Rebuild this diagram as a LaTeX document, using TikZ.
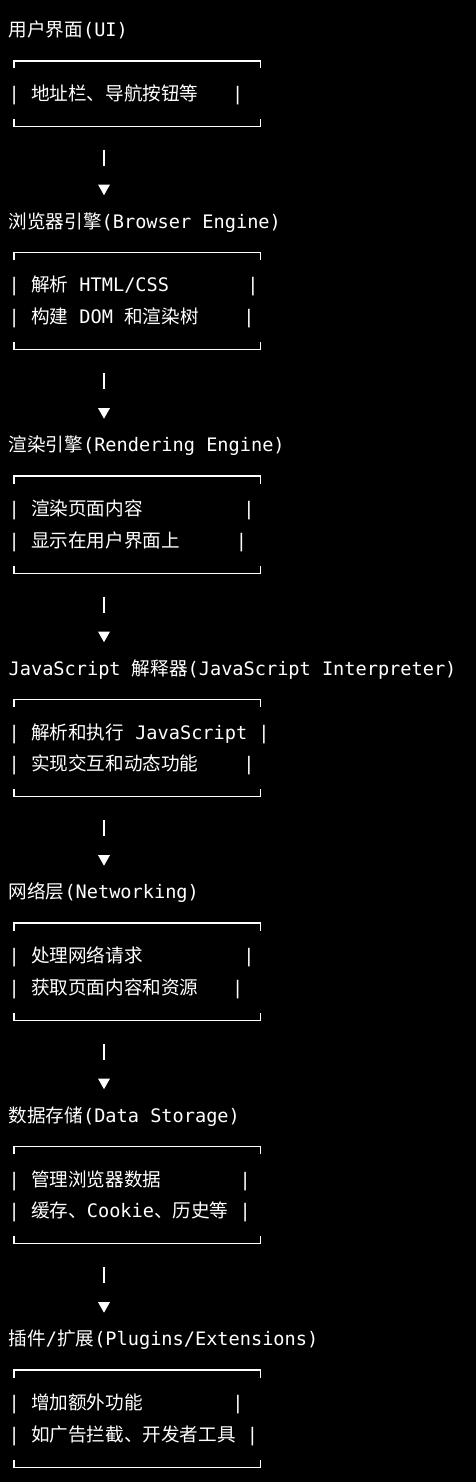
\documentclass[tikz,border=0pt]{standalone}
\usepackage{fontspec}
\setmainfont{DejaVu Sans Mono}
\newfontfamily\cjk{Noto Sans CJK SC}
\newcommand\zh[1]{{\cjk#1}}
\usetikzlibrary{arrows.meta}
\frenchspacing

\begin{document}
\begin{tikzpicture}[
    x=1pt, y=-1pt,
    title/.style={anchor=base west, inner sep=0pt, text=white, font=\fontsize{18.6}{22}\selectfont},
    row/.style={anchor=base west, inner sep=0pt, text=white, font=\fontsize{18.6}{22}\selectfont},
    box/.style={anchor=north west, inner sep=0pt, minimum width=246.3pt},
    frame/.style={draw=white, line width=1.3pt},
    flow/.style={draw=white, line width=1.3pt, dash pattern=on 16pt off 60pt, -{Triangle[length=10.5pt, width=11.5pt]}}
]

% Background
\fill[black, use as bounding box] (0,0) rectangle (476,1482);

% Titles
\node[title] (UI) at (8.5, 36.5) {\zh{用户界面}(UI)};
\node[title] (Browser) at (8.5, 228.1) {\zh{浏览器引擎}(Browser Engine)};
\node[title] (Render) at (8.5, 451.6) {\zh{渲染引擎}(Rendering Engine)};
\node[title] (JS) at (8.5, 675.1) {JavaScript \zh{解释器}(JavaScript Interpreter)};
\node[title] (Net) at (8.5, 898.6) {\zh{网络层}(Networking)};
\node[title] (Data) at (8.5, 1122.1) {\zh{数据存储}(Data Storage)};
\node[title] (Plug) at (8.5, 1345.6) {\zh{插件}/\zh{扩展}(Plugins/Extensions)};

% Boxes
\node[box, minimum height=64.9pt] (UI_box) at (14.1, 60.9) {};
\node[box, minimum height=96.8pt] (Browser_box) at (14.1, 252.5) {};
\node[box, minimum height=96.8pt] (Render_box) at (14.1, 476.0) {};
\node[box, minimum height=96.8pt] (JS_box) at (14.1, 699.5) {};
\node[box, minimum height=96.8pt] (Net_box) at (14.1, 923.0) {};
\node[box, minimum height=96.8pt] (Data_box) at (14.1, 1146.5) {};
\node[box, minimum height=96.8pt] (Plug_box) at (14.1, 1370.1) {};

\draw[frame] ([yshift=-7.5pt]UI_box.north west) |- (UI_box.north east) -- ++(0,-7.5pt)
             ([yshift=7.5pt]UI_box.south west) |- (UI_box.south east) -- ++(0,7.5pt);
\draw[frame] ([yshift=-7.5pt]Browser_box.north west) |- (Browser_box.north east) -- ++(0,-7.5pt)
             ([yshift=7.5pt]Browser_box.south west) |- (Browser_box.south east) -- ++(0,7.5pt);
\draw[frame] ([yshift=-7.5pt]Render_box.north west) |- (Render_box.north east) -- ++(0,-7.5pt)
             ([yshift=7.5pt]Render_box.south west) |- (Render_box.south east) -- ++(0,7.5pt);
\draw[frame] ([yshift=-7.5pt]JS_box.north west) |- (JS_box.north east) -- ++(0,-7.5pt)
             ([yshift=7.5pt]JS_box.south west) |- (JS_box.south east) -- ++(0,7.5pt);
\draw[frame] ([yshift=-7.5pt]Net_box.north west) |- (Net_box.north east) -- ++(0,-7.5pt)
             ([yshift=7.5pt]Net_box.south west) |- (Net_box.south east) -- ++(0,7.5pt);
\draw[frame] ([yshift=-7.5pt]Data_box.north west) |- (Data_box.north east) -- ++(0,-7.5pt)
             ([yshift=7.5pt]Data_box.south west) |- (Data_box.south east) -- ++(0,7.5pt);
\draw[frame] ([yshift=-7.5pt]Plug_box.north west) |- (Plug_box.north east) -- ++(0,-7.5pt)
             ([yshift=7.5pt]Plug_box.south west) |- (Plug_box.south east) -- ++(0,7.5pt);

% Box contents
\node[row] (UI_1) at (8.5, 100.4) {|~\zh{地址栏、导航按钮等}~~~|};
\node[row] (Browser_1) at (8.5, 291.9) {|~\zh{解析}~HTML/CSS~~~~~~~|};
\node[row] (Browser_2) at (8.5, 323.9) {|~\zh{构建}~DOM~\zh{和渲染树}~~~~|};
\node[row] (Render_1) at (8.5, 515.5) {|~\zh{渲染页面内容}~~~~~~~~~|};
\node[row] (Render_2) at (8.5, 547.4) {|~\zh{显示在用户界面上}~~~~~|};
\node[row] (JS_1) at (8.5, 739.0) {|~\zh{解析和执行}~JavaScript~|};
\node[row] (JS_2) at (8.5, 770.9) {|~\zh{实现交互和动态功能}~~~~|};
\node[row] (Net_1) at (8.5, 962.5) {|~\zh{处理网络请求}~~~~~~~~~|};
\node[row] (Net_2) at (8.5, 994.4) {|~\zh{获取页面内容和资源}~~~|};
\node[row] (Data_1) at (8.5, 1186.0) {|~\zh{管理浏览器数据}~~~~~~~|};
\node[row] (Data_2) at (8.5, 1217.9) {|~\zh{缓存、}Cookie\zh{、历史等}~|};
\node[row] (Plug_1) at (8.5, 1409.5) {|~\zh{增加额外功能}~~~~~~~~|};
\node[row] (Plug_2) at (8.5, 1441.4) {|~\zh{如广告拦截、开发者工具}~|};

% Connectors
\coordinate (UI_out) at (104, 149.7);
\coordinate (Browser_in) at (104, 195.2);
\coordinate (Browser_out) at (104, 373.2);
\coordinate (Render_in) at (104, 418.7);
\coordinate (Render_out) at (104, 596.7);
\coordinate (JS_in) at (104, 642.2);
\coordinate (JS_out) at (104, 820.3);
\coordinate (Net_in) at (104, 865.7);
\coordinate (Net_out) at (104, 1043.8);
\coordinate (Data_in) at (104, 1089.2);
\coordinate (Data_out) at (104, 1267.3);
\coordinate (Plug_in) at (104, 1312.7);

\draw[flow] (UI_out) -- (Browser_in);
\draw[flow] (Browser_out) -- (Render_in);
\draw[flow] (Render_out) -- (JS_in);
\draw[flow] (JS_out) -- (Net_in);
\draw[flow] (Net_out) -- (Data_in);
\draw[flow] (Data_out) -- (Plug_in);

\end{tikzpicture}
\end{document}
